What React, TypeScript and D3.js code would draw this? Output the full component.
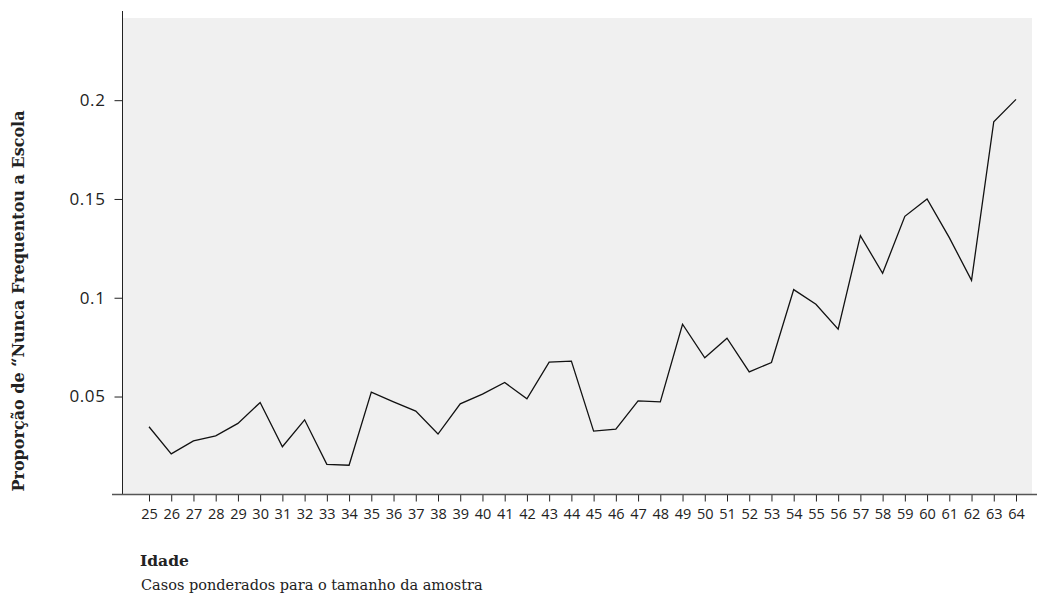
import * as React from "react"
import * as d3 from "d3"

const ages = d3.range(25, 65)
const proportions = [
  0.0347, 0.021, 0.0275, 0.0301, 0.0364, 0.047, 0.0246, 0.0382, 0.0157, 0.0152,
  0.0522, 0.0473, 0.0426, 0.031, 0.0463, 0.0512, 0.0571, 0.0488, 0.0674, 0.0679,
  0.0325, 0.0335, 0.0478, 0.0473, 0.0866, 0.0696, 0.0795, 0.0625, 0.0672, 0.1041,
  0.0967, 0.0841, 0.1314, 0.1124, 0.1412, 0.15, 0.1304, 0.1088, 0.1891, 0.2004,
]
const yTicks = [0.05, 0.1, 0.15, 0.2]
const yTickLabels = ["0.05", "0.1", "0.15", "0.2"]

const yLabel = "Proporção de “Nunca Frequentou a Escola"
const xLabel = "Idade"
const note = "Casos ponderados para o tamanho da amostra"

const width = 1037
const height = 598
const plot = { left: 123, right: 1032, top: 18, bottom: 494.5 }

function render(svgRef: React.RefObject<SVGSVGElement>) {
  const svg = d3.select(svgRef.current)
  svg.selectAll("*").remove()

  const x = d3
    .scalePoint<number>()
    .domain(ages)
    .range([149, 1016])

  const y = d3.scaleLinear().domain([0, 0.2416]).range([495.3, plot.top])

  svg
    .append("rect")
    .attr("x", plot.left)
    .attr("y", plot.top)
    .attr("width", plot.right - plot.left)
    .attr("height", plot.bottom - plot.top)
    .attr("fill", "#f0f0f0")

  // y axis
  const yAxis = svg
    .append("g")
    .attr("transform", `translate(${plot.left - 0.5},0)`)
    .call(
      d3
        .axisLeft(y)
        .tickValues(yTicks)
        .tickSize(8)
        .tickPadding(9)
        .tickFormat((_d, i) => yTickLabels[i])
    )
  yAxis.select(".domain").remove()
  yAxis
    .append("line")
    .attr("y1", 11)
    .attr("y2", plot.bottom)
    .attr("stroke", "#222")
  yAxis.selectAll(".tick line").attr("stroke", "#222")
  yAxis
    .selectAll(".tick text")
    .attr("fill", "#222")
    .attr("font-family", "'Open Sans', sans-serif")
    .attr("font-size", 17)
    .attr("letter-spacing", 0.6)

  // x axis
  const xAxis = svg
    .append("g")
    .attr("transform", `translate(0,${plot.bottom})`)
    .call(d3.axisBottom(x).tickSize(7).tickPadding(7))
  xAxis.select(".domain").remove()
  xAxis
    .append("line")
    .attr("x1", 112)
    .attr("x2", width)
    .attr("stroke", "#555")
    .attr("stroke-width", 1.3)
  xAxis.selectAll(".tick line").attr("stroke", "#222")
  xAxis
    .selectAll(".tick text")
    .attr("fill", "#222")
    .attr("font-family", "'Open Sans', sans-serif")
    .attr("font-size", 14.5)

  // series
  const line = d3
    .line<number>()
    .x((_d, i) => x(ages[i]) as number)
    .y((d) => y(d))

  svg
    .append("path")
    .datum(proportions)
    .attr("d", line)
    .attr("fill", "none")
    .attr("stroke", "#111")
    .attr("stroke-width", 1.3)

  svg
    .append("text")
    .attr("transform", `translate(24,301) rotate(-90)`)
    .attr("text-anchor", "middle")
    .attr("font-family", "'DejaVu Serif', serif")
    .attr("font-weight", "bold")
    .attr("font-size", 16)
    .attr("fill", "#222")
    .text(yLabel)

  svg
    .append("text")
    .attr("x", 140)
    .attr("y", 566)
    .attr("font-family", "'DejaVu Serif', serif")
    .attr("font-weight", "bold")
    .attr("font-size", 15.5)
    .attr("fill", "#222")
    .text(xLabel)

  svg
    .append("text")
    .attr("x", 141)
    .attr("y", 590)
    .attr("font-family", "'DejaVu Serif', serif")
    .attr("font-size", 14.5)
    .attr("fill", "#222")
    .text(note)
}

export default function App(): React.JSX.Element {
  const svgRef = React.useRef<SVGSVGElement>(null)

  React.useEffect(() => {
    render(svgRef)
  }, [])

  return (
    <svg
      ref={svgRef}
      width={width}
      height={height}
      style={{ position: "absolute", left: 0, top: 0, background: "#fff" }}
    />
  )
}
